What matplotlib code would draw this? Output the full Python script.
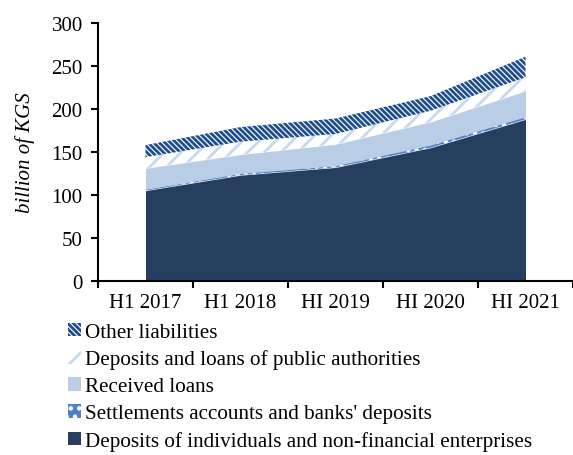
import numpy as np
import matplotlib
matplotlib.use("Agg")
import matplotlib.pyplot as plt
from matplotlib.patches import Patch

# values in billion KGS
periods = ["H1 2017", "H1 2018", "HI 2019", "HI 2020", "HI 2021"]
deposits = [105, 123, 132, 155, 188]
settlements = [1.5, 2, 2, 3, 3]
received_loans = [24.5, 22, 25, 27, 30]
public_auth = [13, 15, 12, 13, 16]
other = [14, 17, 18, 17, 24]

labels = [
    "Deposits of individuals and non-financial enterprises",
    "Settlements accounts and banks' deposits",
    "Received loans",
    "Deposits and loans of public authorities",
    "Other liabilities",
]

plt.rcParams["font.family"] = ["Liberation Serif", "DejaVu Serif"]
plt.rcParams["hatch.linewidth"] = 2.0

fig = plt.figure(figsize=(5.73, 4.56), dpi=100)
ax = fig.add_axes([0.171, 0.382, 0.829, 0.565])

x = np.arange(len(periods))
series = [deposits, settlements, received_loans, public_auth, other]
styles = [
    dict(facecolor="#263f5f", edgecolor="#263f5f", hatch=None),
    dict(facecolor="#4f81c7", edgecolor="white", hatch=".."),
    dict(facecolor="#b9cde5", edgecolor="#b9cde5", hatch=None),
    dict(facecolor="white", edgecolor="#c6d9f1", hatch="//"),
    dict(facecolor="white", edgecolor="#1f4e8c", hatch="\\" * 6),
]

base = np.zeros(len(periods))
for vals, st in zip(series, styles):
    top = base + np.array(vals)
    ax.fill_between(x, base, top, linewidth=0, **st)
    base = top

ax.set_xlim(-0.5, len(periods) - 0.5)
ax.set_ylim(0, 300)
ax.set_yticks(np.arange(0, 301, 50))
ax.set_xticks(np.arange(-0.5, len(periods), 1.0))
ax.set_xticklabels([])
ax.set_xticks(x, minor=True)
ax.set_xticklabels(periods, minor=True)
ax.tick_params(axis="x", which="minor", length=0, pad=9, labelsize=15)
ax.tick_params(axis="x", which="major", length=5, width=1.5, direction="out")
ax.tick_params(axis="y", length=5, width=1.5, direction="out", labelsize=15, pad=6)

for s in ["top", "right"]:
    ax.spines[s].set_visible(False)
for s in ["left", "bottom"]:
    ax.spines[s].set_linewidth(1.5)

ax.set_ylabel("billion of KGS", fontsize=15, style="italic", labelpad=12)

handles = [Patch(linewidth=0, **st) for st in styles]
fig.legend(handles[::-1], labels[::-1], loc="lower left",
           bbox_to_anchor=(0.104, -0.01), frameon=False, fontsize=15.2,
           handlelength=0.6, handleheight=0.6, handletextpad=0.2,
           labelspacing=0.37, borderaxespad=0)

fig.savefig("out.png", dpi=100)
